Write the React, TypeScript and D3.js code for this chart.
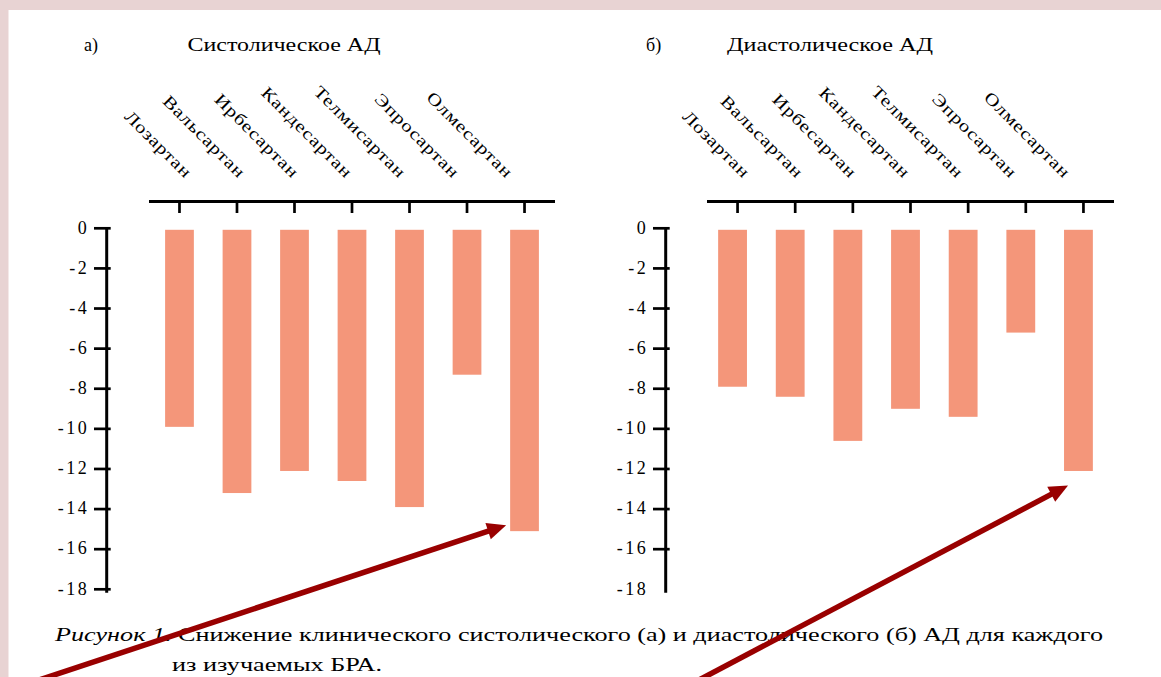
import React from "react";
import * as d3 from "d3";

// ---- data ----
const drugs = [
  "Лозартан",
  "Вальсартан",
  "Ирбесартан",
  "Кандесартан",
  "Телмисартан",
  "Эпросартан",
  "Олмесартан",
];
const systolic = [-9.9, -13.2, -12.1, -12.6, -13.9, -7.3, -15.1];
const diastolic = [-7.9, -8.4, -10.6, -9.0, -9.4, -5.2, -12.1];
const yTickValues = [0, -2, -4, -6, -8, -10, -12, -14, -16, -18];
const panelLetters = ["а)", "б)"];
const panelTitles = ["Систолическое АД", "Диастолическое АД"];
const captionItalic = "Рисунок 1.";
const captionLine1 = " Снижение клинического систолического (а) и диастолического (б) АД для каждого";
const captionLine2 = "из изучаемых БРА.";

const W = 1161;
const H = 677;
const FONT = "'Liberation Serif', 'Times New Roman', serif";
const BAR = "#F4967A";
const ARROW = "#990000";

const y = d3.scaleLinear().domain([-18, 0]).range([589.3, 228.3]);

type Panel = {
  values: number[];
  letter: string;
  title: string;
  letterX: number;
  titleX: number;
  titleLen: number;
  axisX: number;
  topRange: [number, number];
  labelRange: [number, number];
  barShift: number;
  lastTick: boolean;
  arrowStart: [number, number];
  arrowOffset: [number, number];
};

const panels: Panel[] = [
  {
    values: systolic,
    letter: panelLetters[0],
    title: panelTitles[0],
    letterX: 84,
    titleX: 187.5,
    titleLen: 193,
    axisX: 106.7,
    topRange: [149, 555],
    labelRange: [185, 506],
    barShift: 0,
    lastTick: true,
    arrowStart: [36, 681],
    arrowOffset: [-4, -6],
  },
  {
    values: diastolic,
    letter: panelLetters[1],
    title: panelTitles[1],
    letterX: 646,
    titleX: 727,
    titleLen: 206,
    axisX: 665.7,
    topRange: [707, 1114],
    labelRange: [743, 1063.5],
    barShift: -5,
    lastTick: false,
    arrowStart: [697, 681],
    arrowOffset: [4, 14.5],
  },
];

function Arrow({ from, to }: { from: [number, number]; to: [number, number] }) {
  const dx = to[0] - from[0];
  const dy = to[1] - from[1];
  const len = Math.hypot(dx, dy);
  const ux = dx / len;
  const uy = dy / len;
  const nx = -uy;
  const ny = ux;
  const L = 19;
  const Wd = 8.5;
  const bx = to[0] - ux * L;
  const by = to[1] - uy * L;
  const head = [
    [to[0], to[1]],
    [bx + nx * Wd, by + ny * Wd],
    [bx - nx * Wd, by - ny * Wd],
  ];
  return (
    <g>
      <line
        x1={from[0]}
        y1={from[1]}
        x2={to[0] - ux * L * 0.7}
        y2={to[1] - uy * L * 0.7}
        stroke={ARROW}
        strokeWidth={5.5}
      />
      <polygon points={head.map((p) => p.join(",")).join(" ")} fill={ARROW} />
    </g>
  );
}

function makeX(p: Panel) {
  return d3
    .scaleBand<string>()
    .domain(drugs)
    .range(p.topRange)
    .paddingInner(0.5)
    .paddingOuter(0.28);
}

function ChartPanel({ p }: { p: Panel }) {
  const x = makeX(p);
  const lx = d3.scalePoint<string>().domain(drugs).range(p.labelRange);
  const bw = x.bandwidth();
  return (
    <g fontFamily={FONT} fill="#000">
      <text x={p.letterX} y={51} fontSize={18}>
        {p.letter}
      </text>
      <text x={p.titleX} y={51} fontSize={18} textLength={p.titleLen} lengthAdjust="spacingAndGlyphs">
        {p.title}
      </text>
      {drugs.map((d) => (
        <text
          key={d}
          transform={`translate(${lx(d)},179) rotate(45) scale(1.22,1)`}
          textAnchor="end"
          fontSize={17}
          letterSpacing={0.6}
        >
          {d}
        </text>
      ))}
      {/* top category axis */}
      <line x1={p.topRange[0]} x2={p.topRange[1]} y1={201.5} y2={201.5} stroke="#000" strokeWidth={3} />
      {drugs.map((d) => (
        <line
          key={d}
          x1={(x(d) as number) + bw / 2}
          x2={(x(d) as number) + bw / 2}
          y1={201.5}
          y2={213}
          stroke="#000"
          strokeWidth={2.7}
        />
      ))}
      {/* bars */}
      {drugs.map((d, i) => (
        <rect
          key={d}
          x={(x(d) as number) + p.barShift}
          y={y(0) + 1.5}
          width={bw}
          height={y(p.values[i]) - y(0) - 1.5}
          fill={BAR}
        />
      ))}
      {/* y axis */}
      <line x1={p.axisX} x2={p.axisX} y1={y(0) - 1.3} y2={y(-18) + 3.5} stroke="#000" strokeWidth={3} />
      {yTickValues.map((v, i) => (
        <g key={v}>
          {(p.lastTick || i < yTickValues.length - 1) && (
            <line
              x1={p.axisX - 12.7}
              x2={p.axisX + 4}
              y1={y(v)}
              y2={y(v)}
              stroke="#000"
              strokeWidth={2.7}
            />
          )}
          <text
            x={p.axisX - 17.5}
            y={y(v) - 1}
            dy="0.35em"
            textAnchor="end"
            fontSize={18}
            letterSpacing={2.5}
          >
            {String(v)}
          </text>
        </g>
      ))}
    </g>
  );
}

export default function App() {
  return (
    <svg
      width={W}
      height={H}
      viewBox={`0 0 ${W} ${H}`}
      style={{ position: "absolute", left: 0, top: 0, display: "block" }}
    >
      <rect x={0} y={0} width={W} height={H} fill="#E8D3D3" />
      <rect x={8.5} y={10} width={W - 8.5} height={H - 10} fill="#FFFFFF" />
      {panels.map((p, i) => (
        <ChartPanel key={i} p={p} />
      ))}
      <g fontFamily={FONT} fill="#000" fontSize={19}>
        <text x={55} y={641} textLength={1048} lengthAdjust="spacingAndGlyphs">
          <tspan fontStyle="italic">{captionItalic}</tspan>
          <tspan>{captionLine1}</tspan>
        </text>
        <text x={172} y={671} textLength={210} lengthAdjust="spacingAndGlyphs">
          {captionLine2}
        </text>
      </g>
      {panels.map((p, i) => {
        const xb = makeX(p);
        const last = drugs.length - 1;
        const tip: [number, number] = [
          (xb(drugs[last]) as number) + p.barShift + p.arrowOffset[0],
          y(p.values[last]) + p.arrowOffset[1],
        ];
        return <Arrow key={i} from={p.arrowStart} to={tip} />;
      })}
    </svg>
  );
}
